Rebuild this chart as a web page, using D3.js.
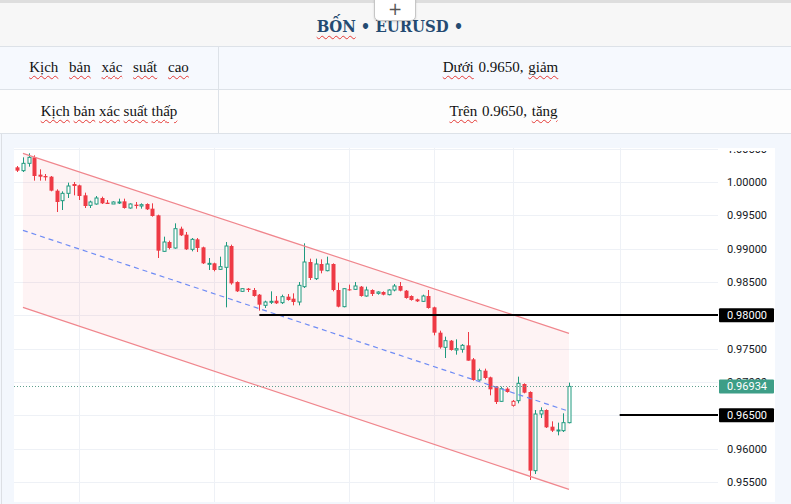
<!DOCTYPE html>
<html><head><meta charset="utf-8">
<script src="https://cdn.jsdelivr.net/npm/d3@7"></script>
<style>
html,body{margin:0;padding:0;}
body{width:791px;height:504px;overflow:hidden;background:#f7f7f7;position:relative;font-family:"Liberation Serif",serif;}
#topbar{position:absolute;left:0;top:0;width:791px;height:3px;background:#dedede;}
#title{position:absolute;left:0;top:16px;width:780px;text-align:center;font-family:"DejaVu Serif Condensed","DejaVu Serif",serif;font-weight:bold;font-size:16.5px;line-height:22px;color:#244b72;white-space:pre;}
.sp{text-decoration:underline wavy #e53935;text-decoration-thickness:1px;text-underline-offset:3px;}
#tab{position:absolute;left:374px;top:-1px;width:40px;height:20px;background:#fff;border:1px solid #c6c6c6;border-radius:0 0 5px 5px;box-shadow:0 1px 2px rgba(0,0,0,.15);text-align:center;font:17px/19px "DejaVu Sans",sans-serif;color:#555;}
.row{position:absolute;left:0;width:791px;}
.cell{position:absolute;top:0;height:100%;display:flex;align-items:center;justify-content:center;font-size:15px;color:#111;white-space:nowrap;}
.c1{left:0;width:218px;}
.c2{left:219px;width:563px;word-spacing:1px;}
.hl{position:absolute;left:0;width:791px;height:1px;background:#dde2e8;}
.vl{position:absolute;width:1px;background:#dde2e8;}
#panel{position:absolute;left:0;top:134px;width:791px;height:370px;background:#f3f7fd;}
svg{position:absolute;left:0;top:0;}
</style></head>
<body>
<div id="topbar"></div>
<div id="title"><span class="sp">BỐN</span> • EURUSD •</div>
<div id="tab">+</div>
<div class="row" style="top:46px;height:43px;background:#f6f9fe;">
  <div class="cell c1" style="word-spacing:7px"><span><span class="sp">Kịch</span> <span class="sp">bản</span> <span class="sp">xác</span> <span class="sp">suất</span> <span class="sp">cao</span></span></div>
  <div class="cell c2"><span><span class="sp">Dưới</span> 0.9650, <span class="sp">giảm</span></span></div>
</div>
<div class="row" style="top:89px;height:44px;background:#fdfdfd;">
  <div class="cell c1" style="word-spacing:0px"><span><span class="sp">Kịch</span> <span class="sp">bản</span> <span class="sp">xác</span> <span class="sp">suất</span> <span class="sp">thấp</span></span></div>
  <div class="cell c2" style="left:222px"><span><span class="sp">Trên</span> 0.9650, <span class="sp">tăng</span></span></div>
</div>
<div class="hl" style="top:46px"></div>
<div class="hl" style="top:89px"></div>
<div class="hl" style="top:133px"></div>
<div class="vl" style="left:218px;top:46px;height:87px"></div>
<div id="panel"></div>
<div class="vl" style="left:1px;top:134px;height:370px;background:#dcdfe4"></div>
<svg id="chart" width="791" height="504"></svg>
<script>
// ---- data ----
const opens  = [1.0022,1.0017,1.0028,1.0037,1.0011,1.0009,1.0008,0.9987,0.9972,0.9983,
                0.9997,0.9995,0.9980,0.9965,0.9967,0.9976,0.9969,0.9967,0.9969,0.9971,
                0.9961,0.9966,0.9964,0.9967,0.9960,0.9950,0.9896,0.9910,0.9901,0.9930,
                0.9921,0.9899,0.9914,0.9902,0.9877,0.9878,0.9869,0.9872,0.9904,0.9850,
                0.9836,0.9840,0.9838,0.9831,0.9815,0.9820,0.9822,0.9819,0.9828,0.9825,
                0.9820,0.9843,0.9880,0.9855,0.9877,0.9867,0.9877,0.9838,0.9813,0.9839,
                0.9839,0.9843,0.9829,0.9838,0.9833,0.9835,0.9831,0.9838,0.9844,0.9837,
                0.9829,0.9824,0.9821,0.9829,0.9812,0.9774,0.9752,0.9762,0.9748,0.9749,
                0.9755,0.9734,0.9703,0.9717,0.9707,0.9693,0.9671,0.9690,0.9665,0.9672,
                0.9697,0.9685,0.9567,0.9652,0.9658,0.9633,0.9627,0.9627,0.9639];
const highs  = [1.0024,1.0037,1.0043,1.0040,1.0019,1.0012,1.0009,0.9989,0.9986,0.9999,
                1.0000,0.9996,0.9984,0.9972,0.9979,0.9978,0.9973,0.9971,0.9975,0.9975,
                0.9968,0.9970,0.9968,0.9968,0.9968,0.9951,0.9918,0.9912,0.9938,0.9933,
                0.9925,0.9916,0.9916,0.9903,0.9886,0.9879,0.9888,0.9910,0.9906,0.9851,
                0.9841,0.9841,0.9841,0.9832,0.9822,0.9836,0.9829,0.9831,0.9832,0.9833,
                0.9850,0.9908,0.9885,0.9885,0.9884,0.9888,0.9878,0.9849,0.9841,0.9846,
                0.9850,0.9844,0.9843,0.9839,0.9836,0.9836,0.9839,0.9847,0.9850,0.9838,
                0.9830,0.9825,0.9831,0.9838,0.9813,0.9777,0.9768,0.9763,0.9764,0.9757,
                0.9775,0.9736,0.9720,0.9720,0.9708,0.9694,0.9693,0.9692,0.9673,0.9708,
                0.9698,0.9686,0.9658,0.9662,0.9659,0.9641,0.9639,0.9653,0.9699];
const lows   = [1.0015,1.0015,1.0023,1.0002,1.0002,1.0002,0.9986,0.9955,0.9958,0.9976,
                0.9980,0.9973,0.9961,0.9961,0.9966,0.9967,0.9967,0.9967,0.9967,0.9960,
                0.9960,0.9960,0.9960,0.9958,0.9948,0.9886,0.9895,0.9899,0.9900,0.9919,
                0.9898,0.9896,0.9895,0.9877,0.9868,0.9866,0.9868,0.9812,0.9846,0.9835,
                0.9835,0.9835,0.9828,0.9807,0.9811,0.9817,0.9817,0.9817,0.9822,0.9815,
                0.9815,0.9841,0.9853,0.9853,0.9863,0.9866,0.9836,0.9812,0.9812,0.9837,
                0.9838,0.9828,0.9828,0.9829,0.9831,0.9830,0.9830,0.9836,0.9836,0.9825,
                0.9822,0.9820,0.9820,0.9810,0.9770,0.9750,0.9736,0.9747,0.9741,0.9744,
                0.9732,0.9702,0.9702,0.9704,0.9680,0.9667,0.9670,0.9684,0.9663,0.9668,
                0.9683,0.9553,0.9562,0.9646,0.9631,0.9625,0.9620,0.9625,0.9638];
const closes = [1.0017,1.0028,1.0037,1.0009,1.0008,1.0007,0.9987,0.9970,0.9983,0.9994,
                0.9994,0.9979,0.9964,0.9970,0.9976,0.9968,0.9967,0.9970,0.9970,0.9961,
                0.9967,0.9964,0.9966,0.9959,0.9949,0.9897,0.9910,0.9901,0.9930,0.9920,
                0.9899,0.9914,0.9901,0.9878,0.9878,0.9868,0.9873,0.9904,0.9848,0.9836,
                0.9840,0.9838,0.9829,0.9816,0.9820,0.9821,0.9818,0.9828,0.9823,0.9820,
                0.9845,0.9880,0.9856,0.9877,0.9867,0.9877,0.9838,0.9813,0.9840,0.9838,
                0.9844,0.9829,0.9838,0.9832,0.9835,0.9831,0.9838,0.9844,0.9837,0.9826,
                0.9823,0.9821,0.9829,0.9811,0.9774,0.9752,0.9762,0.9748,0.9750,0.9755,
                0.9732,0.9703,0.9717,0.9706,0.9689,0.9670,0.9690,0.9685,0.9671,0.9698,
                0.9684,0.9567,0.9652,0.9657,0.9632,0.9627,0.9628,0.9639,0.96934];
const yTicks = [0.955,0.960,0.965,0.970,0.975,0.980,0.985,0.990,0.995,1.000,1.005];
const timeGrid = [11, 35, 59, 74, 88, 107];          // bar indices of vertical grid lines
const channelUpper = [[1, 1.0043], [98, 0.9773]];   // [bar index, price]
const channelLower = [[1, 0.9812], [98, 0.9539]];
const levels = [{price: 0.9800, from: 43}, {price: 0.9650, from: 107}];
const lastPrice = 0.96934;

// ---- layout ----
const plotL = 14, plotR = 718, plotT = 148, plotB = 502, paneR = 775;
const svg = d3.select("#chart");
const x = d3.scaleLinear().domain([0, 98]).range([17.3, 569]);
const y = d3.scaleLinear().domain([0.955, 1.0]).range([482, 182]);
const fmt = d3.format(".5f");
const GREEN = "#1f9a7f", RED = "#ee3a45";
const defs = svg.append("defs");
defs.append("clipPath").attr("id","clip")
  .append("rect").attr("x",plotL).attr("y",plotT).attr("width",paneR-plotL).attr("height",plotB-plotT);
defs.append("clipPath").attr("id","clipAx")
  .append("rect").attr("x",plotR).attr("y",plotT+3).attr("width",paneR-plotR).attr("height",plotB-plotT-3);

svg.append("rect").attr("x",plotL).attr("y",plotT).attr("width",paneR-plotL).attr("height",plotB-plotT).attr("fill","#fff");

const g = svg.append("g").attr("clip-path","url(#clip)");

// grid
g.selectAll(".hg").data(yTicks).join("line")
  .attr("x1",plotL).attr("x2",plotR)
  .attr("y1",d=>Math.round(y(d))+0.5).attr("y2",d=>Math.round(y(d))+0.5)
  .attr("stroke","#eef1f6").attr("stroke-width",1);
g.selectAll(".vg").data(timeGrid).join("line")
  .attr("x1",d=>Math.round(x(d))+0.5).attr("x2",d=>Math.round(x(d))+0.5)
  .attr("y1",plotT).attr("y2",plotB)
  .attr("stroke","#eef1f6").attr("stroke-width",1);

// channel fill
const poly = [channelUpper[0], channelUpper[1], channelLower[1], channelLower[0]];
g.append("path")
  .attr("d", d3.line().x(d=>x(d[0])).y(d=>y(d[1]))(poly) + "Z")
  .attr("fill","rgba(242,54,69,0.06)");

// candles
const bars = opens.map((o,i)=>({i, o, h:highs[i], l:lows[i], c:closes[i], pc: i>0?closes[i-1]:o}));
bars.forEach(b=>{
  b.filled = b.c < b.o;
  b.col = b.filled ? RED : (b.c < b.pc ? RED : GREEN);
});
const cg = g.append("g");
bars.forEach(b=>{
  const cx = Math.round(x(b.i)) + 0.5;
  const top = y(Math.max(b.o,b.c)), bot = y(Math.min(b.o,b.c));
  if (b.filled) {
    cg.append("line").attr("x1",cx).attr("x2",cx).attr("y1",y(b.h)).attr("y2",y(b.l))
      .attr("stroke",b.col).attr("stroke-width",1);
    cg.append("rect").attr("x",cx-2).attr("y",top).attr("width",4).attr("height",Math.max(1,bot-top))
      .attr("fill",b.col);
  } else {
    cg.append("line").attr("x1",cx).attr("x2",cx).attr("y1",y(b.h)).attr("y2",top)
      .attr("stroke",b.col).attr("stroke-width",1);
    cg.append("line").attr("x1",cx).attr("x2",cx).attr("y1",bot).attr("y2",y(b.l))
      .attr("stroke",b.col).attr("stroke-width",1);
    cg.append("rect").attr("x",cx-1.5).attr("y",top).attr("width",3).attr("height",Math.max(1,bot-top))
      .attr("fill","#fff").attr("stroke",b.col).attr("stroke-width",1);
  }
});

// channel lines
[channelUpper, channelLower].forEach(seg=>{
  g.append("line").attr("x1",x(seg[0][0])).attr("y1",y(seg[0][1]))
    .attr("x2",x(seg[1][0])).attr("y2",y(seg[1][1]))
    .attr("stroke","#f0868d").attr("stroke-width",1.2);
});
g.append("line")
  .attr("x1",x(channelUpper[0][0])).attr("y1",y((channelUpper[0][1]+channelLower[0][1])/2))
  .attr("x2",x(channelUpper[1][0])).attr("y2",y((channelUpper[1][1]+channelLower[1][1])/2))
  .attr("stroke","#6f8cf5").attr("stroke-width",1.2).attr("stroke-dasharray","5,4");

// last price dotted line
g.append("line").attr("x1",plotL).attr("x2",plotR)
  .attr("y1",Math.round(y(lastPrice))+0.5).attr("y2",Math.round(y(lastPrice))+0.5)
  .attr("stroke","#5e9f8e").attr("stroke-width",1).attr("stroke-dasharray","1,2");

// horizontal levels
levels.forEach(l=>{
  g.append("line").attr("x1",x(l.from)).attr("x2",plotR)
    .attr("y1",Math.round(y(l.price))).attr("y2",Math.round(y(l.price)))
    .attr("stroke","#000").attr("stroke-width",2);
});

// price axis
const ax = svg.append("g").attr("clip-path","url(#clipAx)")
  .append("g").attr("transform",`translate(${plotR+1},0)`)
  .call(d3.axisRight(y).tickValues(yTicks).tickFormat(fmt).tickSize(0).tickPadding(8));
ax.select(".domain").remove();
ax.selectAll("text").attr("font-family","Roboto, 'Liberation Sans', sans-serif").attr("font-size",11).attr("fill","#131722");

// price labels
const labels = [{p:lastPrice, bg:"#3d9e87"}].concat(levels.map(l=>({p:l.price,bg:"#000"})));
labels.forEach(l=>{
  const cy = y(l.p);
  svg.append("rect").attr("x",plotR+1).attr("y",cy-7).attr("width",55).attr("height",14)
    .attr("fill",l.bg).attr("rx",1);
  svg.append("text").attr("x",plotR+9).attr("y",cy).attr("dy","0.35em")
    .attr("font-family","Roboto, 'Liberation Sans', sans-serif").attr("font-size",11)
    .attr("fill","#fff").text(fmt(l.p));
});
</script>
</body></html>
